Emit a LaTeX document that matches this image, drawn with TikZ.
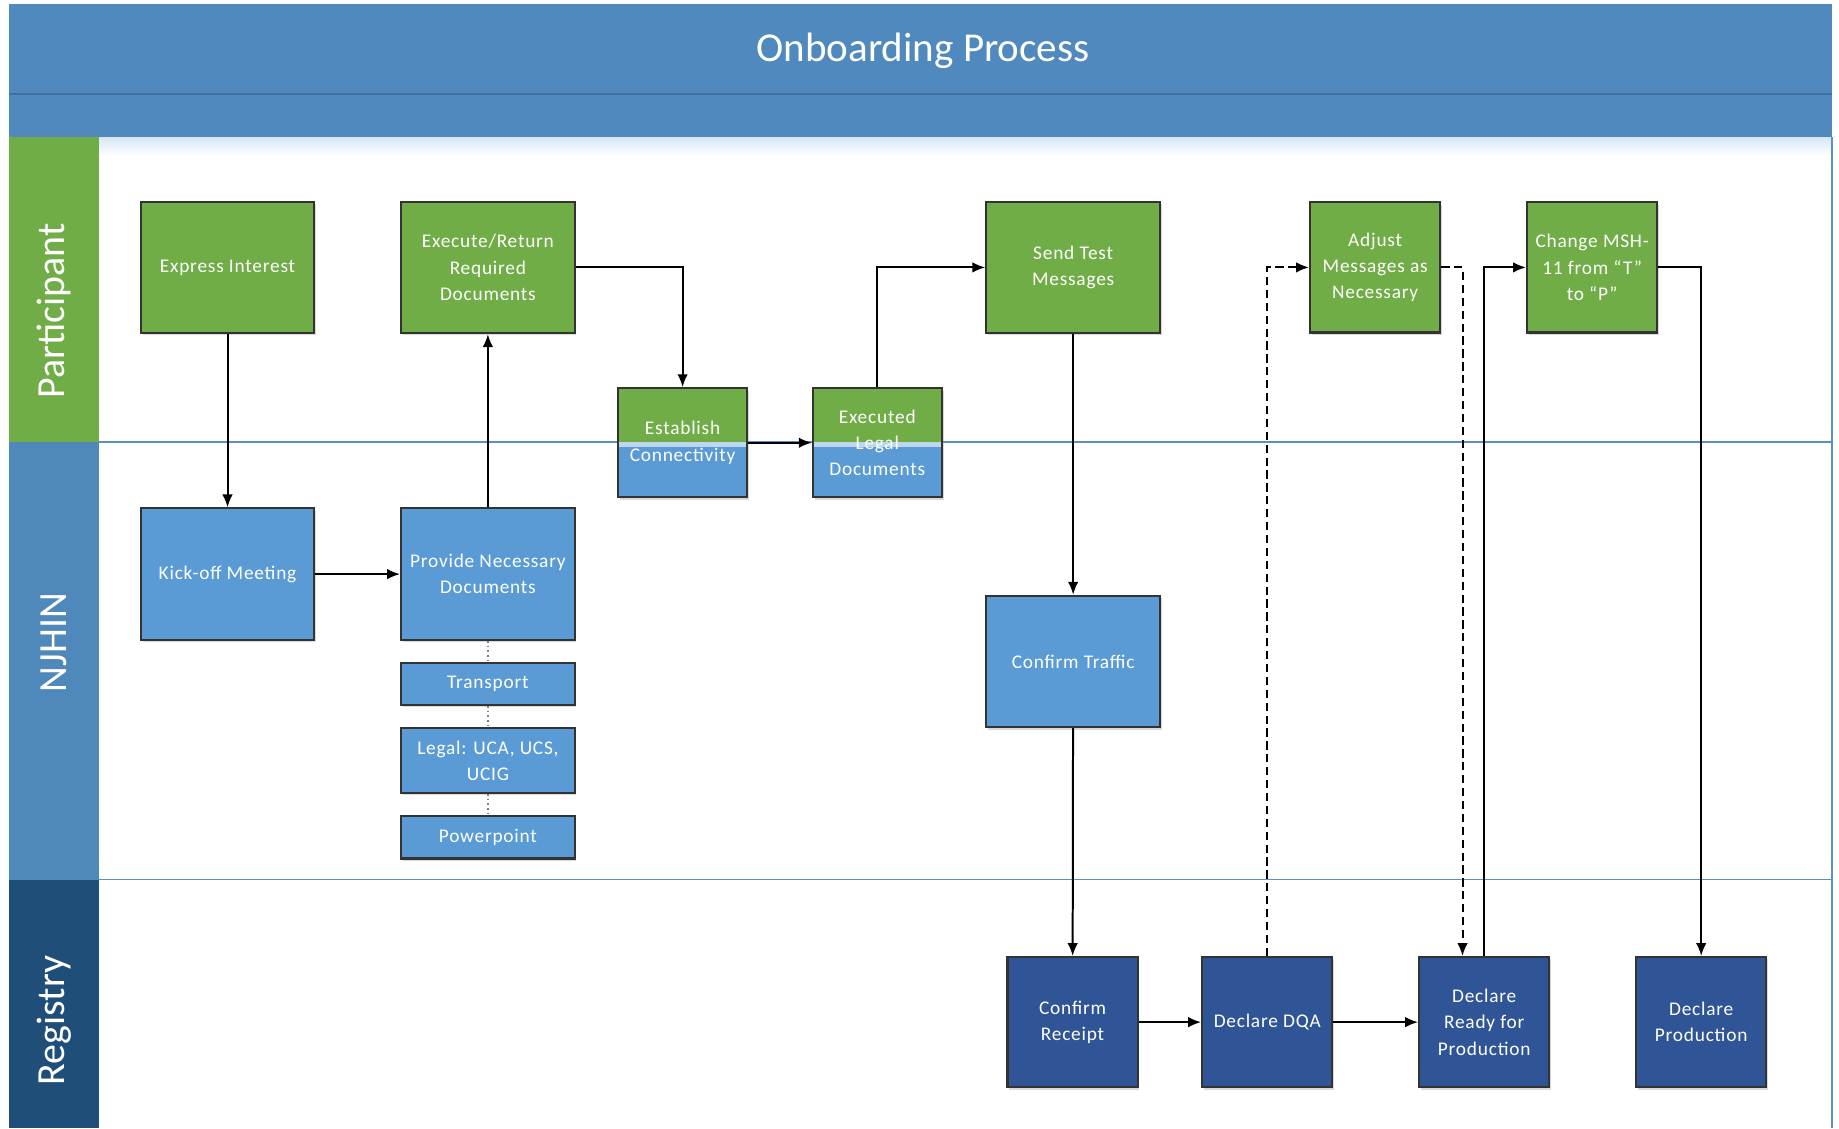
\documentclass[tikz,border=0pt]{standalone}
\usepackage{fontspec}
\setmainfont{Carlito}
\usetikzlibrary{arrows.meta,shadows,calc}
\definecolor{band}{HTML}{4F89BD}
\definecolor{bandline}{HTML}{41719C}
\definecolor{pgreen}{HTML}{70AD47}
\definecolor{nblue}{HTML}{5B9BD5}
\definecolor{lblue}{HTML}{4F88BB}
\definecolor{rdark}{HTML}{1F4E79}
\definecolor{ndark}{HTML}{2F5597}
\definecolor{laneline}{HTML}{5B8FC7}
\definecolor{stripe}{HTML}{BDD7EE}
\newfontfamily\boxfont[LetterSpace=4]{Carlito}
\begin{document}
\begin{tikzpicture}[x=1pt,y=-1pt,
  box/.style={draw=black!80, line width=1.8pt, text=white, align=center,
    font=\boxfont\fontsize{16.5}{22.5}\selectfont, inner sep=2pt,
    drop shadow={opacity=0.3,shadow xshift=1.5pt,shadow yshift=-2pt}},
  gbox/.style={box, fill=pgreen},
  bbox/.style={box, fill=nblue},
  dbox/.style={box, fill=ndark},
  bigsz/.style={minimum width=148pt, minimum height=112pt},
  midsz/.style={minimum width=111pt, minimum height=111pt},
  splitbox/.style={box, fill=pgreen, minimum width=110pt, minimum height=93pt,
    path picture={
      \fill[nblue] (path picture bounding box.west) rectangle (path picture bounding box.south east);
      \fill[stripe] ([yshift=1pt]path picture bounding box.west) rectangle ([yshift=-4pt]path picture bounding box.east);
    }},
  subsz/.style={minimum width=148pt, minimum height=#1},
  conn/.style={line width=1.7pt, -{Latex[length=11pt,width=9pt]}},
  dconn/.style={conn, dash pattern=on 7pt off 4pt},
  dotc/.style={gray, line width=1.4pt, dash pattern=on 1.5pt off 2.5pt},
  lanelbl/.style={rotate=90, text=white, font=\fontsize{34}{40}\selectfont}
]
\useasboundingbox (0,0) rectangle (1568,962);
% frame
\fill[band] (8,3) rectangle (1562,117);
\draw[bandline, line width=1.2pt] (8,80) -- (1562,80);
\shade[top color=nblue!25, bottom color=white] (84,117) rectangle (1562,132);
\fill[pgreen] (8,117) rectangle (84,377);
\fill[lblue] (8,377) rectangle (84,750);
\fill[rdark] (8,750) rectangle (84,962);
\draw[laneline, line width=1.2pt] (84,377) -- (1562,377);
\draw[laneline, line width=1.2pt] (84,750) -- (1562,750);
\draw[laneline, line width=1.2pt] (1562,117) -- (1562,962);
\node[text=white, font=\fontsize{35}{42}\selectfont] (title) at (787,43) {Onboarding Process};
\node[lanelbl] (lp) at (46,265) {Participant};
\node[lanelbl] (ln) at (46,548) {NJHIN};
\node[lanelbl] (lr) at (46,870) {Registry};
% participant
\node[gbox, bigsz] (express) at (194,228) {Express Interest};
\node[gbox, bigsz] (execute) at (416,228) {Execute/Return\\Required\\Documents};
\node[splitbox] (estab) at (582,377.5) {Establish\\Connectivity};
\node[splitbox] (execd) at (748,377.5) {Executed\\Legal\\Documents};
\node[gbox, bigsz] (send) at (915,228) {Send Test\\Messages};
\node[gbox, midsz] (adjust) at (1172.5,228) {Adjust\\Messages as\\Necessary};
\node[gbox, midsz] (change) at (1357.5,228) {Change MSH-\\11 from “T”\\to “P”};
% NJHIN
\node[bbox, bigsz] (kick) at (194,489.5) {Kick-off Meeting};
\node[bbox, bigsz] (provide) at (416,489.5) {Provide Necessary\\Documents};
\node[bbox, subsz=36pt] (transport) at (416,583) {Transport};
\node[bbox, subsz=55pt] (legal) at (416,648.5) {Legal: UCA, UCS,\\UCIG};
\node[bbox, subsz=36pt] (ppt) at (416,714) {Powerpoint};
\node[bbox, bigsz] (traffic) at (915,564) {Confirm Traffic};
% Registry
\node[dbox, midsz] (receipt) at (914.5,871.5) {Confirm\\Receipt};
\node[dbox, midsz] (dqa) at (1080.5,871.5) {Declare DQA};
\node[dbox, midsz] (ready) at (1265.5,871.5) {Declare\\Ready for\\Production};
\node[dbox, midsz] (prod) at (1450.5,871.5) {Declare\\Production};
% connectors
\draw[conn] (express) -- (kick);
\draw[conn] (kick) -- (provide);
\draw[conn] (provide) -- (execute);
\draw[conn] (execute.east) -| (estab.north);
\draw[conn] (estab) -- (execd);
\draw[conn] (execd.north) |- (send.west);
\draw[conn] (send) -- (traffic);
\draw[conn] (traffic) -- (receipt);
\draw[conn] (receipt) -- (dqa);
\draw[conn] (dqa) -- (ready);
\draw[dconn] (dqa.north) |- (adjust.west);
\draw[dconn] (adjust.east) -| ([xshift=-18.5pt]ready.north);
\draw[conn] (ready.north) |- (change.west);
\draw[conn] (change.east) -| (prod.north);
\draw[dotc] (provide.south) -- (transport.north);
\draw[dotc] (transport.south) -- (legal.north);
\draw[dotc] (legal.south) -- (ppt.north);
\end{tikzpicture}
\end{document}
